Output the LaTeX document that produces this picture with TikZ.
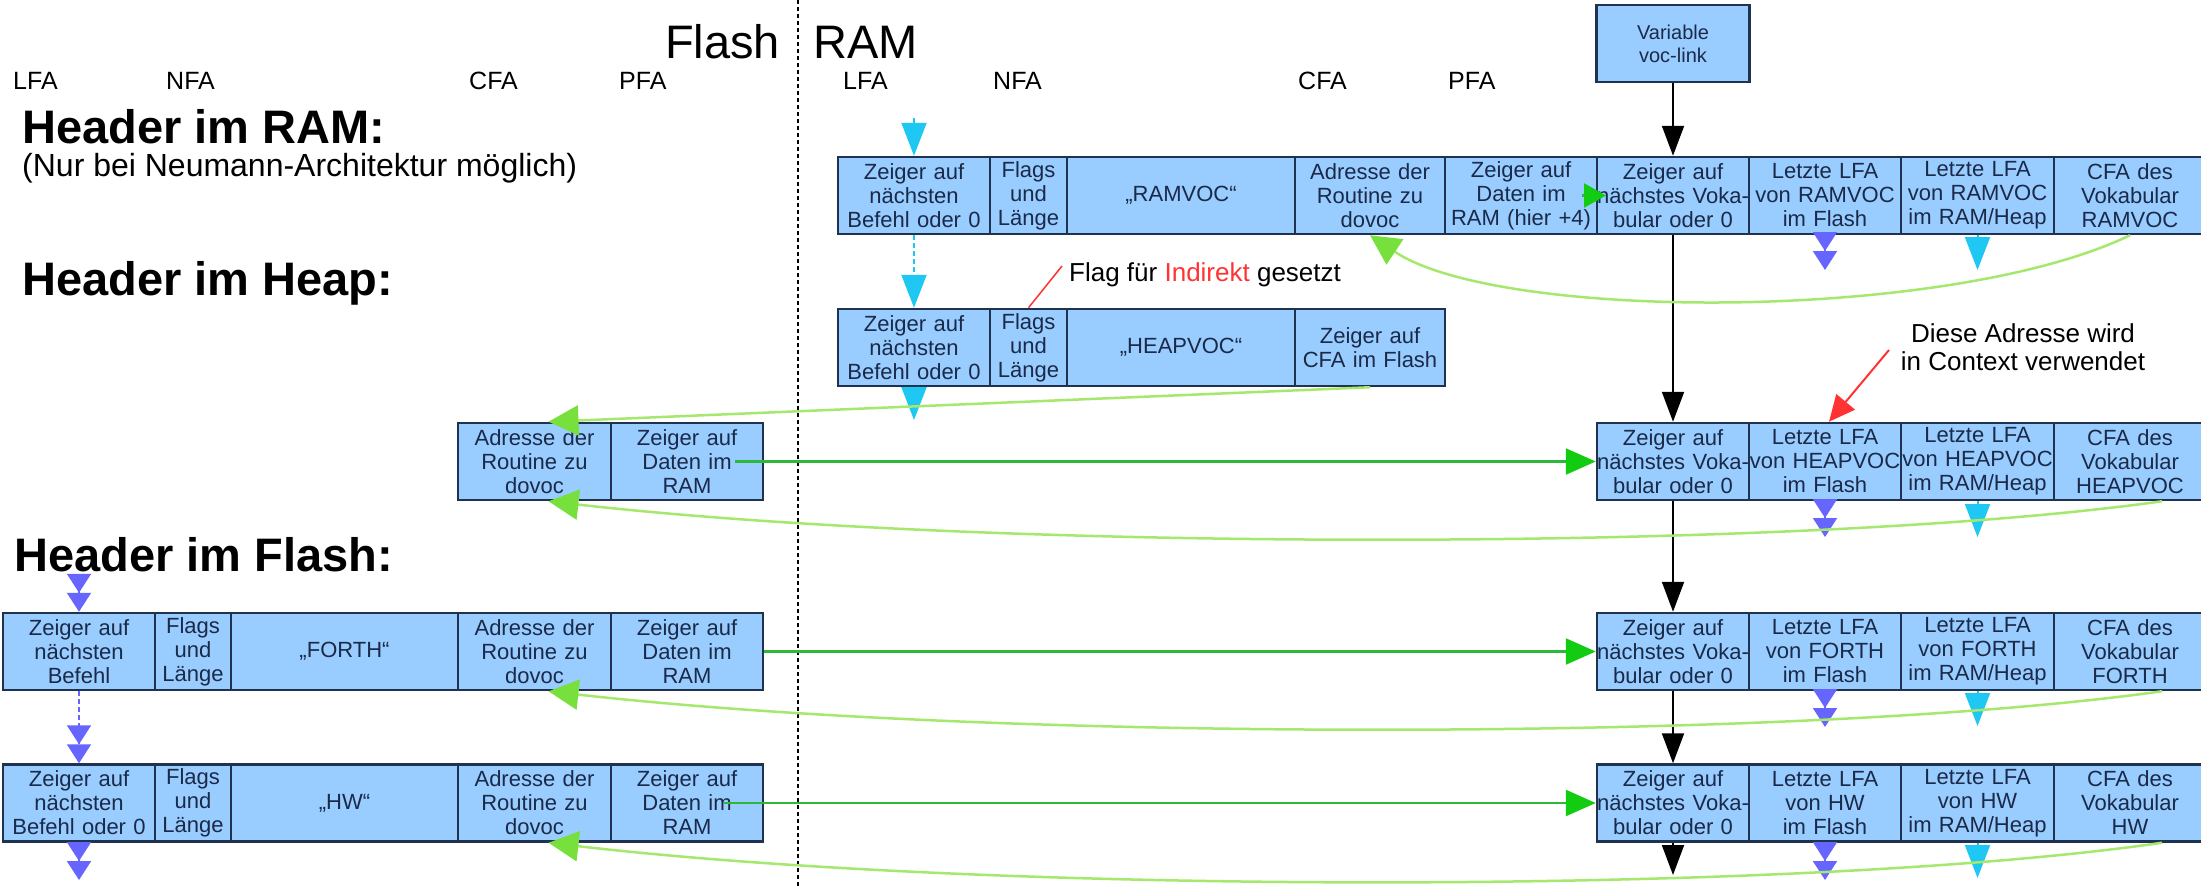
\documentclass[tikz,border=0pt]{standalone}
\usepackage{fontspec}
\setmainfont{Liberation Sans}
\usetikzlibrary{arrows.meta}
\definecolor{cellfill}{HTML}{99CCFF}
\definecolor{celldraw}{HTML}{1F3350}
\definecolor{celltext}{HTML}{1A2A48}
\definecolor{cyanA}{HTML}{1EC8F2}
\definecolor{purpA}{HTML}{6666FF}
\definecolor{greenA}{HTML}{2DB83A}
\definecolor{greenH}{HTML}{11CC11}
\definecolor{lgreen}{HTML}{A6E86E}
\definecolor{lgreenH}{HTML}{77E03C}
\definecolor{redA}{HTML}{FF3333}
\begin{document}
\begin{tikzpicture}[x=1pt,y=-1pt,
  cell/.style={draw=celldraw, fill=cellfill, line width=2.5pt, minimum height=77pt,
    inner sep=0pt, text width=#1pt, align=center, text=celltext,
    font=\fontsize{22}{24}\selectfont},
  lbl/.style={anchor=base west, inner sep=0pt, font=\fontsize{25}{25}\selectfont},
  big/.style={anchor=base west, inner sep=0pt, font=\fontsize{47}{47}\selectfont},
  head/.style={anchor=base west, inner sep=0pt, font=\bfseries\fontsize{47}{47}\selectfont},
  blk/.style={draw=black, line width=2pt, -{Triangle[length=30pt,width=22pt]}},
  cyn/.style={draw=cyanA, line width=2pt, -{Triangle[length=33pt,width=25pt]}},
  prp/.style={draw=purpA, line width=2pt, -{Triangle[length=19pt,width=24pt]Triangle[length=19pt,width=24pt]}},
  grn/.style={draw=greenA, line width=2.5pt, -{Triangle[length=30pt,width=26pt,color=greenH]}},
  grnshort/.style={draw=greenA, line width=2.5pt, -{Triangle[length=22pt,width=24pt,color=greenH]}},
  lgr/.style={draw=lgreen, line width=2.5pt, -{Triangle[length=30pt,width=30pt,color=lgreenH]}},
  redl/.style={draw=redA, line width=1.5pt},
  reda/.style={draw=redA, line width=2pt, -{Triangle[length=26pt,width=24pt]}},
  dsh/.style={dash pattern=on 5pt off 3pt}
]
\useasboundingbox (0,0) rectangle (2201,887);
\fill[white] (0,0) rectangle (2201,887);

% divider
\draw[line width=1.3pt, dash pattern=on 4pt off 3pt] (798,0) -- (798,887);

% titles
\node[big] (tflash) at (665,58) {Flash};
\node[big] (tram) at (813,58) {RAM};

% column labels
\node[lbl] (lLFA) at (13,89) {LFA};
\node[lbl] (lNFA) at (166,89) {NFA};
\node[lbl] (lCFA) at (469,89) {CFA};
\node[lbl] (lPFA) at (619,89) {PFA};
\node[lbl] (rLFA) at (843,89) {LFA};
\node[lbl] (rNFA) at (993,89) {NFA};
\node[lbl] (rCFA) at (1298,89) {CFA};
\node[lbl] (rPFA) at (1448,89) {PFA};

% headings
\node[head] (hRAM) at (22,143) {Header im RAM:};
\node[anchor=base west, inner sep=0pt, font=\fontsize{32}{32}\selectfont] (hRAMsub) at (22,176) {(Nur bei Neumann-Architektur möglich)};
\node[head] (hHeap) at (22,295) {Header im Heap:};
\node[head] (hFlash) at (14,571) {Header im Flash:};

% variable voc-link
\node[cell=153, font=\fontsize{20}{23}\selectfont] (var) at (1673,43.5) {Variable\\voc-link};

% RAM row
\node[cell=152] (r1) at (914,195.5) {Zeiger auf\\nächsten\\Befehl oder 0};
\node[cell=77] (r2) at (1028.5,195.5) {Flags\\und\\Länge};
\node[cell=228] (r3) at (1181,195.5) {„RAMVOC“};
\node[cell=150] (r4) at (1370,195.5) {Adresse der\\Routine zu\\dovoc};
\node[cell=152] (r5) at (1521,195.5) {Zeiger auf\\Daten im\\RAM (hier +4)};
\node[cell=152] (rv1) at (1673,195.5) {Zeiger auf\\nächstes Voka-\\bular oder 0};
\node[cell=152] (rv2) at (1825,195.5) {Letzte LFA\\von RAMVOC\\im Flash};
\node[cell=153] (rv3) at (1977.5,195.5) {Letzte LFA\\von RAMVOC\\im RAM/Heap};
\node[cell=152] (rv4) at (2130,195.5) {CFA des\\Vokabular\\RAMVOC};

% Heap row
\node[cell=152] (h1) at (914,347.5) {Zeiger auf\\nächsten\\Befehl oder 0};
\node[cell=77] (h2) at (1028.5,347.5) {Flags\\und\\Länge};
\node[cell=228] (h3) at (1181,347.5) {„HEAPVOC“};
\node[cell=150] (h4) at (1370,347.5) {Zeiger auf\\CFA im Flash};

% HEAPVOC flash part + vocab
\node[cell=153] (m4) at (534.5,461.5) {Adresse der\\Routine zu\\dovoc};
\node[cell=152] (m5) at (687,461.5) {Zeiger auf\\Daten im\\RAM};
\node[cell=152] (hv1) at (1673,461.5) {Zeiger auf\\nächstes Voka-\\bular oder 0};
\node[cell=152] (hv2) at (1825,461.5) {Letzte LFA\\von HEAPVOC\\im Flash};
\node[cell=153] (hv3) at (1977.5,461.5) {Letzte LFA\\von HEAPVOC\\im RAM/Heap};
\node[cell=152] (hv4) at (2130,461.5) {CFA des\\Vokabular\\HEAPVOC};

% FORTH row
\node[cell=152] (f1) at (79,651.5) {Zeiger auf\\nächsten\\Befehl};
\node[cell=76] (f2) at (193,651.5) {Flags\\und\\Länge};
\node[cell=227] (f3) at (344.5,651.5) {„FORTH“};
\node[cell=153] (f4) at (534.5,651.5) {Adresse der\\Routine zu\\dovoc};
\node[cell=152] (f5) at (687,651.5) {Zeiger auf\\Daten im\\RAM};
\node[cell=152] (fv1) at (1673,651.5) {Zeiger auf\\nächstes Voka-\\bular oder 0};
\node[cell=152] (fv2) at (1825,651.5) {Letzte LFA\\von FORTH\\im Flash};
\node[cell=153] (fv3) at (1977.5,651.5) {Letzte LFA\\von FORTH\\im RAM/Heap};
\node[cell=152] (fv4) at (2130,651.5) {CFA des\\Vokabular\\FORTH};

% HW row
\node[cell=152] (w1) at (79,803) {Zeiger auf\\nächsten\\Befehl oder 0};
\node[cell=76] (w2) at (193,803) {Flags\\und\\Länge};
\node[cell=227] (w3) at (344.5,803) {„HW“};
\node[cell=153] (w4) at (534.5,803) {Adresse der\\Routine zu\\dovoc};
\node[cell=152] (w5) at (687,803) {Zeiger auf\\Daten im\\RAM};
\node[cell=152] (wv1) at (1673,803) {Zeiger auf\\nächstes Voka-\\bular oder 0};
\node[cell=152] (wv2) at (1825,803) {Letzte LFA\\von HW\\im Flash};
\node[cell=153] (wv3) at (1977.5,803) {Letzte LFA\\von HW\\im RAM/Heap};
\node[cell=152] (wv4) at (2130,803) {CFA des\\Vokabular\\HW};

% annotations
\node[anchor=base west, inner sep=0pt, font=\fontsize{26}{26}\selectfont] (flagtxt) at (1069,281)
  {Flag für \textcolor{redA}{Indirekt} gesetzt};
\node[inner sep=0pt, align=center, font=\fontsize{26}{28}\selectfont] (ctxtxt) at (2023,347)
  {Diese Adresse wird\\in Context verwendet};

% free ends
\coordinate (cyTop) at (914,118);
\coordinate (cyHeapEnd) at (914,420);
\coordinate (cyR) at (1977.5,270);
\coordinate (cyH) at (1977.5,537);
\coordinate (cyF) at (1977.5,726);
\coordinate (cyW) at (1977.5,878);
\coordinate (pR) at (1825,270);
\coordinate (pH) at (1825,537);
\coordinate (pF) at (1825,727);
\coordinate (pW) at (1825,880);
\coordinate (pTop) at (79,575);
\coordinate (pEnd) at (79,880);
\coordinate (bEnd) at (1673,875);
\coordinate (m5s) at (735,461.5);
\coordinate (w5s) at (724,803);
\coordinate (r5s) at (1582,195.5);
\coordinate (rv1in) at (1606,195.5);
\coordinate (flagL) at (1062,266);
\coordinate (ctxL) at (1889,350);

% black voc-link chain
\draw[blk] (var) -- (rv1);
\draw[blk] (rv1) -- (hv1);
\draw[blk] (hv1) -- (fv1);
\draw[blk] (fv1) -- (wv1);
\draw[blk] (wv1) -- (bEnd);

% cyan (RAM/Heap links)
\draw[cyn] (cyTop) -- (r1);
\draw[cyn, dsh] (r1) -- (h1);
\draw[cyn] (h1) -- (cyHeapEnd);
\draw[cyn] (rv3) -- (cyR);
\draw[cyn] (hv3) -- (cyH);
\draw[cyn] (fv3) -- (cyF);
\draw[cyn] (wv3) -- (cyW);

% purple (flash links)
\draw[prp] (pTop) -- (f1);
\draw[prp, dsh] (f1) -- (w1);
\draw[prp] (w1) -- (pEnd);
\draw[prp] (rv2) -- (pR);
\draw[prp] (hv2) -- (pH);
\draw[prp] (fv2) -- (pF);
\draw[prp] (wv2) -- (pW);

% green data pointers
\draw[grnshort] (r5s) -- (rv1in);
\draw[grn] (m5s) -- (hv1.west);
\draw[grn] (f5) -- (fv1);
\draw[grn] (w5s) -- (wv1.west);

% light green CFA links
\draw[lgr] (rv4.south) .. controls (1950,322) and (1500,322) .. (r4.south);
\draw[lgr] (h4.south) -- ([xshift=14pt]m4.north);
\draw[lgr] ([xshift=32pt]hv4.south) .. controls (1800,552) and (1000,552) .. ([xshift=14pt]m4.south);
\draw[lgr] ([xshift=32pt]fv4.south) .. controls (1800,742) and (1000,742) .. ([xshift=14pt]f4.south);
\draw[lgr] ([xshift=32pt]wv4.south) .. controls (1800,895) and (1000,895) .. ([xshift=14pt]w4.south);

% red
\draw[redl] (flagL) -- (h2.north);
\draw[reda] (ctxL) -- ([xshift=4pt]hv2.north);
\end{tikzpicture}
\end{document}
